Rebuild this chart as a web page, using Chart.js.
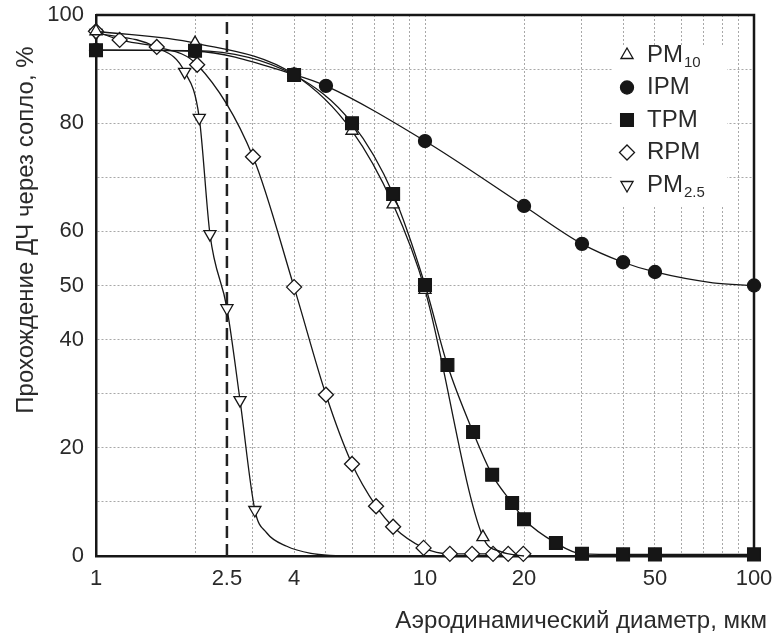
<!DOCTYPE html>
<html>
<head>
<meta charset="utf-8">
<script src="https://cdn.jsdelivr.net/npm/chart.js@4"></script>
<style>
  html, body { margin: 0; padding: 0; background: #fff; }
</style>
</head>
<body>
<canvas id="chart" width="779" height="635"></canvas>
<script>
// measured points (drawn with markers)
const pm10X = [1, 2, 4, 6, 8, 10, 15];
const pm10Y = [97, 94.8, 89, 78.6, 65, 49.2, 3.5];
const ipmX = [1, 2, 4, 5, 10, 20, 30, 40, 50, 100];
const ipmY = [93.5, 93.3, 89, 86.9, 76.7, 64.7, 57.7, 54.3, 52.5, 50];
const tpmX = [1, 2, 4, 6, 8, 10, 11.7, 14, 16, 18.4, 20, 25, 30, 40, 50, 100];
const tpmY = [93.5, 93.4, 88.9, 80, 66.9, 50.1, 35.3, 22.9, 15, 9.8, 6.8, 2.4, 0.4, 0.3, 0.3, 0.3];
const rpmX = [1, 1.18, 1.53, 2.03, 3, 4, 5, 6, 7.1, 8, 9.9, 11.9, 13.9, 16.1, 17.9, 19.9];
const rpmY = [97, 95.4, 94.1, 90.8, 73.8, 49.7, 29.8, 17, 9.2, 5.4, 1.5, 0.4, 0.4, 0.4, 0.4, 0.4];
const pm25X = [1, 1.86, 2.06, 2.22, 2.5, 2.74, 3.04];
const pm25Y = [96.7, 89.5, 81, 59.5, 45.8, 28.8, 8.5];

// extra points of the fitted curves (no markers)
const pm10CurveX = [17, 20];
const pm10CurveY = [0.8, 0];
const ipmCurveX = [75];
const ipmCurveY = [50.5];
const pm25CurveX = [1.53, 3.3, 3.8, 4.5, 5.5];
const pm25CurveY = [94, 4.3, 1.8, 0.5, 0];

const cutoff = 2.5;
const xGridValues = [1, 2, 2.5, 3, 4, 5, 6, 7, 8, 9, 10, 20, 30, 40, 50, 60, 70, 80, 90, 100];
const xTickLabels = [1, 2.5, 4, 10, 20, 50, 100];
const yTickLabels = [0, 20, 40, 50, 60, 80, 100];

const xTitle = "Аэродинамический диаметр, мкм";
const yTitle = "Прохождение ДЧ через сопло, %";

const FONT = '"Liberation Sans", Arial, sans-serif';
const INK = "#161616";
const TEXT = "#2a2a2a";

function points(xs, ys, cxs = [], cys = []) {
  const marked = xs.map((x, i) => ({ x, y: ys[i], marker: true }));
  const curve = cxs.map((x, i) => ({ x, y: cys[i], marker: false }));
  return marked.concat(curve).sort((a, b) => a.x - b.x);
}

function series(label, name, sub, data, style, fill, radius, order, rotation = 0) {
  return {
    label, legendName: name, legendSub: sub, data,
    borderColor: INK, borderWidth: 1.3,
    pointStyle: style, pointRotation: rotation,
    pointBackgroundColor: fill, pointBorderColor: INK, pointBorderWidth: 1.3,
    pointRadius: ctx => (ctx.raw && ctx.raw.marker ? radius : 0),
    legendRadius: radius,
    cubicInterpolationMode: "monotone",
    clip: false, order
  };
}

const datasets = [
  series("PM10", "PM", "10", points(pm10X, pm10Y, pm10CurveX, pm10CurveY), "triangle", "#fff", 7, 2),
  series("IPM", "IPM", "", points(ipmX, ipmY, ipmCurveX, ipmCurveY), "circle", INK, 6.5, 1),
  series("TPM", "TPM", "", points(tpmX, tpmY), "rect", INK, 9, 0),
  series("RPM", "RPM", "", points(rpmX, rpmY), "rectRot", "#fff", 7.5, 3),
  series("PM2.5", "PM", "2.5", points(pm25X, pm25Y, pm25CurveX, pm25CurveY), "triangle", "#fff", 7, 4, 180),
  {
    label: "cutoff",
    data: [{ x: cutoff, y: 0 }, { x: cutoff, y: 100 }],
    borderColor: "#222", borderWidth: 2.5, borderDash: [12, 6],
    pointRadius: 0, clip: false, order: 10
  }
];

const frame = {
  id: "frame",
  beforeDatasetsDraw(chart) {
    const { ctx, chartArea: a } = chart;
    ctx.save();
    ctx.fillStyle = "#fff";
    ctx.fillRect(a.right - 141, a.top + 30, 114, 160);
    ctx.strokeStyle = INK;
    ctx.lineWidth = 2.5;
    ctx.beginPath();
    ctx.moveTo(a.left, a.top);
    ctx.lineTo(a.right, a.top);
    ctx.lineTo(a.right, a.bottom);
    ctx.stroke();
    ctx.restore();
  },
  afterDraw(chart) {
    const { ctx, chartArea: a } = chart;
    ctx.save();
    // legend
    let y = a.top + 40;
    chart.data.datasets.filter(ds => ds.legendName).forEach(ds => {
      ctx.fillStyle = ds.pointBackgroundColor;
      ctx.strokeStyle = INK;
      ctx.lineWidth = 1.3;
      Chart.helpers.drawPoint(ctx, {
        pointStyle: ds.pointStyle, rotation: ds.pointRotation,
        radius: ds.legendRadius, borderWidth: 1.3
      }, a.right - 127, y);
      ctx.fillStyle = TEXT;
      ctx.textBaseline = "middle";
      ctx.textAlign = "left";
      ctx.font = "24px " + FONT;
      const tx = a.right - 107;
      ctx.fillText(ds.legendName, tx, y);
      if (ds.legendSub) {
        const w = ctx.measureText(ds.legendName).width;
        ctx.font = "15px " + FONT;
        ctx.fillText(ds.legendSub, tx + w + 1, y + 8);
      }
      y += 32.5;
    });
    // axis titles
    ctx.fillStyle = TEXT;
    ctx.font = "24px " + FONT;
    ctx.textBaseline = "alphabetic";
    ctx.textAlign = "right";
    ctx.fillText(xTitle, 767, 628);
    ctx.translate(33, 230);
    ctx.rotate(-Math.PI / 2);
    ctx.textAlign = "center";
    ctx.fillText(yTitle, 0, 0);
    ctx.restore();
  }
};

// keep the plot area where the reference has it
function noOverflow(s) {
  s.paddingTop = 0;
  s.paddingBottom = 0;
  s.paddingLeft = 0;
  s.paddingRight = 0;
}

new Chart(document.getElementById("chart"), {
  type: "line",
  data: { datasets },
  plugins: [frame],
  options: {
    responsive: false,
    animation: false,
    events: [],
    layout: { padding: { left: 0, right: 25, top: 15, bottom: 0 } },
    plugins: { legend: { display: false }, tooltip: { enabled: false } },
    scales: {
      x: {
        type: "logarithmic", min: 1, max: 100,
        afterBuildTicks: axis => { axis.ticks = xGridValues.map(v => ({ value: v })); },
        afterFit: s => { s.height = 79; noOverflow(s); },
        ticks: {
          autoSkip: false, maxRotation: 0, padding: 10, color: TEXT,
          font: { family: FONT, size: 22 },
          callback: v => (xTickLabels.includes(v) ? String(v) : "")
        },
        grid: {
          drawTicks: false, lineWidth: 1,
          color: ctx => (ctx.tick && ctx.tick.value === cutoff ? "rgba(0,0,0,0)" : "#a8a8a8")
        },
        border: { color: INK, width: 2.5, dash: [2, 2] }
      },
      y: {
        min: 0, max: 100,
        afterFit: s => { s.width = 96; noOverflow(s); },
        ticks: {
          stepSize: 10, padding: 12, color: TEXT,
          font: { family: FONT, size: 22 },
          callback: v => (yTickLabels.includes(v) ? String(v) : "")
        },
        grid: { drawTicks: false, lineWidth: 1, color: "#a8a8a8" },
        border: { color: INK, width: 2.5, dash: [2, 2] }
      }
    }
  }
});
</script>
</body>
</html>
